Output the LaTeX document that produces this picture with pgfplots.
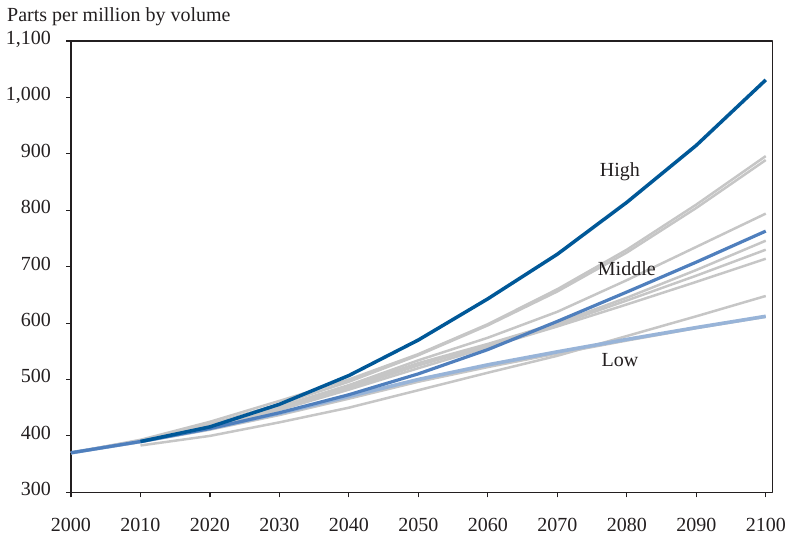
\documentclass[border=0pt]{standalone}
\usepackage{pgfplots}
\pgfplotsset{compat=1.18}
\usepackage{fontspec}
\setmainfont{Liberation Serif}
\definecolor{hi}{RGB}{0,88,152}
\definecolor{mid}{RGB}{79,127,189}
\definecolor{lo}{RGB}{152,180,216}
\definecolor{gr}{RGB}{198,198,198}
\definecolor{ink}{RGB}{35,31,32}
\newcommand{\lbl}{\fontsize{20bp}{24bp}\selectfont}
\begin{document}
\begin{tikzpicture}
\useasboundingbox (-71bp,-46.7bp) rectangle (717bp,492.3bp);
\begin{axis}[
    name=a, at={(0,0)}, anchor=south west,
    scale only axis, width=701.7bp, height=451.3bp,
    xmin=2000, xmax=2101, ymin=300, ymax=1100,
    xtick={2000,2010,...,2100}, ytick={300,400,...,1100},
    xtick pos=lower, ytick pos=left,
    tick align=outside, major tick length=5bp,
    axis line style={ink, line width=1.5bp},
    every tick/.style={ink, line width=1.1bp},
    /pgf/number format/assume math mode=true,
    ticklabel style={font=\lbl, text=ink, inner sep=0pt},
    xticklabel style={anchor=north, yshift=-21bp, /pgf/number format/1000 sep={}},
    yticklabel style={anchor=base east, xshift=-15bp, yshift=-0.34em, /pgf/number format/1000 sep={,}},
    clip=false,
    line join=round,
]
% grey scenario lines
\addplot[gr, line width=2.5bp] coordinates {(2000,370) (2010,393) (2020,425) (2030,462) (2040,500) (2050,545) (2060,598) (2070,660) (2080,730) (2090,810) (2100,896)};
\addplot[gr, line width=2.5bp] coordinates {(2000,370) (2010,392) (2020,421) (2030,456) (2040,496) (2050,543) (2060,596) (2070,656) (2080,725) (2090,804) (2100,889)};
\addplot[gr, line width=2.5bp] coordinates {(2000,370) (2010,392) (2020,418) (2030,452) (2040,490) (2050,534) (2060,574) (2070,620) (2080,676) (2090,735) (2100,794)};
\addplot[gr, line width=2.5bp] coordinates {(2000,370) (2010,391) (2020,418) (2030,450) (2040,488) (2050,529) (2060,563) (2070,600) (2080,645) (2090,694) (2100,746)};
\addplot[gr, line width=2.5bp] coordinates {(2000,370) (2010,391) (2020,417) (2030,448) (2040,485) (2050,525) (2060,560) (2070,597) (2080,640) (2090,684) (2100,730)};
\addplot[gr, line width=2.5bp] coordinates {(2000,370) (2010,390) (2020,416) (2030,446) (2040,482) (2050,520) (2060,557) (2070,594) (2080,633) (2090,673) (2100,714)};
\addplot[gr, line width=2.5bp] coordinates {(2010,383) (2020,400) (2030,424) (2040,450) (2050,481) (2060,512) (2070,542) (2080,577) (2090,612) (2100,648)};
\addplot[gr, line width=2.5bp] coordinates {(2000,370) (2010,389) (2020,411) (2030,437) (2040,466) (2050,496) (2060,522) (2070,546) (2080,569) (2090,591) (2100,611)};
% Low
\addplot[lo, line width=3.6bp] coordinates {(2000,370) (2010,390) (2020,413) (2030,440) (2040,470) (2050,500) (2060,526) (2070,549) (2080,571) (2090,592) (2100,612)};
% Middle
\addplot[mid, line width=3.2bp] coordinates {(2000,370) (2010,390) (2020,413) (2030,441) (2040,473) (2050,510) (2060,553) (2070,603) (2080,655) (2090,708) (2100,763)};
% High
\addplot[hi, line width=3.5bp] coordinates {(2010,390) (2020,416) (2030,456) (2040,507) (2050,570) (2060,643) (2070,722) (2080,814) (2090,915) (2100,1031)};
\node[font=\lbl, text=ink] at (axis cs:2079,868) {High};
\node[font=\lbl, text=ink] at (axis cs:2080,697) {Middle};
\node[font=\lbl, text=ink] at (axis cs:2079,534) {Low};
\end{axis}
\node[anchor=base west, inner sep=0pt, font=\lbl, text=ink] at (-64bp,470.3bp) {Parts per million by volume};
\end{tikzpicture}
\end{document}
